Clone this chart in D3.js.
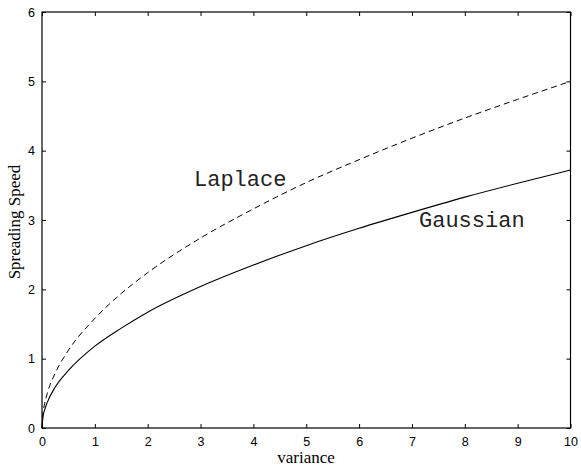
<!DOCTYPE html>
<html>
<head>
<meta charset="utf-8">
<script src="https://cdn.jsdelivr.net/npm/d3@7"></script>
<style>
  body { margin: 0; background: #fff; }
  svg { display: block; }
</style>
</head>
<body>
<script>
// values
const variance = [0, 0.02, 0.05, 0.1, 0.25, 0.5, 1, 1.5, 2, 3, 4, 5, 6, 7, 8, 9, 10];
const gaussian = [0, 0.17, 0.26, 0.37, 0.59, 0.83, 1.18, 1.44, 1.67, 2.04, 2.35, 2.63, 2.88, 3.11, 3.33, 3.53, 3.72];
const laplace = [0, 0.22, 0.35, 0.5, 0.79, 1.12, 1.58, 1.94, 2.24, 2.74, 3.16, 3.54, 3.87, 4.18, 4.47, 4.74, 5.0];
const xTicks = [0, 1, 2, 3, 4, 5, 6, 7, 8, 9, 10];
const yTicks = [0, 1, 2, 3, 4, 5, 6];

const width = 581;
const height = 467;
const plotLeft = 42, plotRight = 570.5, plotTop = 12, plotBottom = 428;

const svg = d3.select("body")
  .append("svg")
  .attr("width", width)
  .attr("height", height);

const xScale = d3.scaleLinear().domain([0, 10]).range([plotLeft, plotRight]);
const yScale = d3.scaleLinear().domain([0, 6]).range([plotBottom, plotTop]);

const tickFont = "'Liberation Sans', Arial, sans-serif";

// bottom axis (ticks point inward)
svg.append("g")
  .attr("transform", `translate(0, ${plotBottom})`)
  .call(d3.axisBottom(xScale).tickValues(xTicks).tickFormat(d3.format("d")).tickSizeInner(-4).tickSizeOuter(0).tickPadding(9))
  .call(g => g.select(".domain").remove())
  .selectAll("text")
  .style("font-family", tickFont)
  .style("font-size", "12.5px")
  .attr("fill", "#000");

// top axis, ticks only
svg.append("g")
  .attr("transform", `translate(0, ${plotTop})`)
  .call(d3.axisTop(xScale).tickValues(xTicks).tickSizeInner(-4).tickSizeOuter(0).tickFormat(""))
  .call(g => g.select(".domain").remove());

// left axis
svg.append("g")
  .attr("transform", `translate(${plotLeft}, 0)`)
  .call(d3.axisLeft(yScale).tickValues(yTicks).tickFormat(d3.format("d")).tickSizeInner(-4).tickSizeOuter(0).tickPadding(7))
  .call(g => g.select(".domain").remove())
  .selectAll("text")
  .style("font-family", tickFont)
  .style("font-size", "12.5px")
  .attr("fill", "#000");

// right axis, ticks only
svg.append("g")
  .attr("transform", `translate(${plotRight}, 0)`)
  .call(d3.axisRight(yScale).tickValues(yTicks).tickSizeInner(-4).tickSizeOuter(0).tickFormat(""))
  .call(g => g.select(".domain").remove());

// frame
svg.append("rect")
  .attr("x", plotLeft)
  .attr("y", plotTop)
  .attr("width", plotRight - plotLeft)
  .attr("height", plotBottom - plotTop)
  .attr("fill", "none")
  .attr("stroke", "#000")
  .attr("stroke-width", 1.2);

const line = d3.line()
  .x((d, i) => xScale(variance[i]))
  .y(d => yScale(d))
  .curve(d3.curveMonotoneX);

svg.append("path")
  .datum(laplace)
  .attr("d", line)
  .attr("fill", "none")
  .attr("stroke", "#000")
  .attr("stroke-width", 1)
  .attr("stroke-dasharray", "6,4");

svg.append("path")
  .datum(gaussian)
  .attr("d", line)
  .attr("fill", "none")
  .attr("stroke", "#000")
  .attr("stroke-width", 1.1);

const monoFont = "'Liberation Mono', 'Courier New', monospace";

svg.append("text")
  .attr("x", 194)
  .attr("y", 186)
  .attr("fill", "#222")
  .style("font-family", monoFont)
  .style("font-size", "22px")
  .text("Laplace");

svg.append("text")
  .attr("x", 419)
  .attr("y", 227)
  .attr("fill", "#222")
  .style("font-family", monoFont)
  .style("font-size", "22px")
  .text("Gaussian");

const serif = "'Liberation Serif', 'Times New Roman', serif";

svg.append("text")
  .attr("x", 306)
  .attr("y", 463)
  .attr("text-anchor", "middle")
  .style("font-family", serif)
  .style("font-size", "17px")
  .text("variance");

svg.append("text")
  .attr("transform", "translate(20, 222) rotate(-90)")
  .attr("text-anchor", "middle")
  .style("font-family", serif)
  .style("font-size", "17px")
  .text("Spreading Speed");
</script>
</body>
</html>
